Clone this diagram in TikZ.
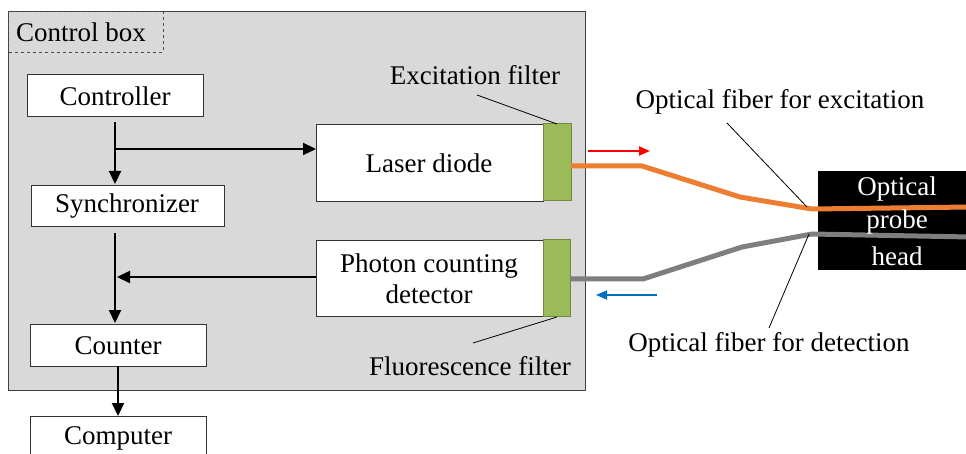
\documentclass[tikz,border=0pt]{standalone}
\usepackage{fontspec}
\setmainfont{Liberation Serif}
\usetikzlibrary{arrows.meta}
\definecolor{boxgray}{HTML}{D9D9D9}
\definecolor{filtergreen}{HTML}{9BBB59}
\definecolor{filterdark}{HTML}{71893F}
\definecolor{fiberorange}{HTML}{ED7D31}
\definecolor{fibergray}{HTML}{7F7F7F}
\definecolor{signalblue}{HTML}{0070C0}
\begin{document}
\begin{tikzpicture}[x=1pt,y=-1pt,
  every node/.style={font=\fontsize{27}{32}\selectfont, inner sep=0pt},
  block/.style={draw=black!80, line width=0.8pt, fill=white},
  filterbox/.style={draw=filterdark, line width=1pt, fill=filtergreen},
  flow/.style={line width=2.2pt, -{Triangle[length=13pt,width=12pt]}},
  fiber/.style={line width=5pt},
  leader/.style={line width=0.8pt},
  label/.style={anchor=center}]
\useasboundingbox (0,0) rectangle (966,454);

% control box housing
\draw[draw=black!75, line width=0.9pt, fill=boxgray] (8,11) rectangle (585,390);
\draw[dashed, line width=0.8pt, draw=black!70] (8,11) rectangle (163,52);
\node[anchor=west] (cbox) at (16,32) {Control box};

% electronics blocks
\draw[block] (27,74) rectangle (203,116);
\node (ctrl) at (115,96) {Controller};
\coordinate (ctrlB) at (115,116);

\draw[block] (31,185) rectangle (224,226);
\node (sync) at (127,206) {Synchronizer};

\draw[block] (30,324) rectangle (206,366);
\node (cnt) at (118,346) {Counter};

\draw[block] (30,416) rectangle (206,470);
\node (comp) at (118,438) {Computer};

\draw[block] (316,124) rectangle (543,201);
\node (ld) at (429,163) {Laser diode};

\draw[block] (316,240) rectangle (543,316);
\node[align=center] (pcd) at (429,279) {Photon counting\\[-1pt]detector};

% filters
\draw[filterbox] (543,124) rectangle (571,201);
\draw[filterbox] (543,240) rectangle (570,316);
\coordinate (exf) at (557,124);
\coordinate (flf) at (557,317);

\node (exlab) at (475,75) {Excitation filter};
\draw[leader] (477,95) -- (exf);
\node (fllab) at (470,366) {Fluorescence filter};
\draw[leader] (473,343) -- (flf);

% signal arrows
\coordinate (j1) at (115,149);
\draw[flow] (115,122) -- (115,184);
\draw[flow] (j1) -- (316,149);
\draw[flow] (115,233) -- (115,323);
\draw[flow] (316,277) -- (117,277);
\draw[flow] (118,366) -- (118,416);

% probe head
\fill[black] (818,171) rectangle (970,270);

% fibers
\draw[fiber, fiberorange] (571,166) -- (642,166) -- (740,197) -- (812,209) -- (970,207);
\draw[fiber, fibergray] (570,279) -- (643,279) -- (742,247) -- (812,234) -- (970,237);

\node[text=white] (ph1) at (897,189) {Optical};
\node[text=white] (ph2) at (897,222) {probe};
\node[text=white] (ph3) at (897,256) {head};

% direction arrows
\draw[red, line width=1.8pt, -{Triangle[length=11pt,width=9pt]}] (588,151) -- (650,151);
\draw[signalblue, line width=1.8pt, -{Triangle[length=11pt,width=9pt]}] (657,295) -- (596,295);

% fiber labels
\node (exfib) at (780,102) {Optical fiber for excitation};
\draw[leader] (727,123) -- (807,207);
\node (detfib) at (769,345) {Optical fiber for detection};
\draw[leader] (769,328) -- (809,234);
\end{tikzpicture}
\end{document}
